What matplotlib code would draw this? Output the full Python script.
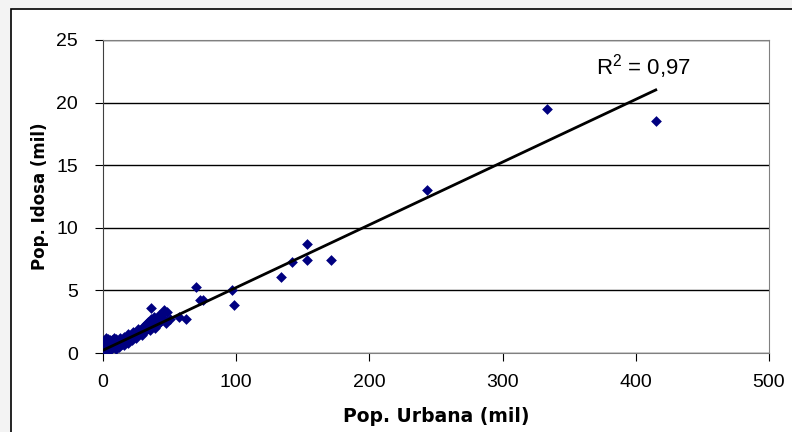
import numpy as np
import matplotlib
matplotlib.use("Agg")
import matplotlib.pyplot as plt
from matplotlib.patches import Rectangle

# large municipalities
big_x = [415, 333, 243, 153, 153, 142, 171, 134, 97, 98, 70, 73, 75, 62, 57, 36, 46, 44, 48]
big_y = [18.5, 19.5, 13.0, 8.7, 7.4, 7.3, 7.4, 6.1, 5.0, 3.8, 5.3, 4.2, 4.2, 2.7, 2.9, 3.6, 3.4, 3.2, 3.3]

# dense cluster near the origin
small_x = [0.3, 0.6, 1.0, 1.2, 1.5, 2.0, 2.0, 2.5, 3.0, 3.0, 3.5, 4.0, 4.0, 4.5, 5.0, 5.0,
           5.5, 6.0, 6.5, 7.0, 7.0, 8.0, 8.0, 9.0, 9.5, 10.0, 10.0, 11.0, 12.0, 12.5, 13.0,
           14.0, 15.0, 15.5, 16.0, 17.0, 18.0, 18.5, 19.0, 20.0, 21.0, 22.0, 22.5, 23.0,
           24.0, 25.0, 26.0, 27.0, 28.0, 29.0, 30.0, 31.0, 32.0, 33.0, 34.0, 35.0, 36.0,
           37.0, 38.0, 39.0, 40.0, 41.0, 42.0, 43.0, 45.0, 47.0, 50.0]
small_y = [0.05, 0.1, 0.2, 0.8, 0.15, 1.2, 0.4, 0.2, 0.7, 0.3, 1.1, 0.5, 0.15, 0.8, 0.4, 1.0,
           0.25, 0.6, 1.0, 0.4, 0.8, 1.2, 0.5, 0.7, 0.35, 1.1, 0.6, 0.8, 0.5, 0.9, 1.2,
           0.7, 1.0, 0.6, 1.3, 0.9, 1.2, 0.8, 1.5, 1.1, 1.4, 1.0, 1.7, 1.3, 1.6, 1.2,
           1.9, 1.5, 1.8, 1.4, 2.1, 1.7, 2.3, 1.9, 2.5, 1.8, 2.7, 2.2, 2.9, 2.0, 2.6,
           2.3, 3.0, 2.5, 2.8, 2.4, 2.7]

# linear trendline as shown on the chart
trend_slope = 0.0501
trend_intercept = 0.22
r2_label = "R$^2$ = 0,97"

x = np.array(big_x + small_x)
y = np.array(big_y + small_y)

plt.rcParams['font.family'] = ['Liberation Sans', 'DejaVu Sans']
plt.rcParams['mathtext.fontset'] = 'custom'
plt.rcParams['mathtext.rm'] = 'Liberation Sans'

fig = plt.figure(figsize=(7.92, 4.32), dpi=100)
fig.patch.set_facecolor('#f3f3f3')
# chart area frame
fig.patches.append(Rectangle((11 / 792, -0.1), 1.2, 1.1 - 9 / 432,
                             transform=fig.transFigure, facecolor='white',
                             edgecolor='black', linewidth=1.2, zorder=-5))

ax = fig.add_axes([103 / 792, 79 / 432, 666 / 792, 313 / 432])
ax.set_facecolor('white')

ax.scatter(x, y, marker='D', s=30, color='#000080', zorder=3, linewidths=0)

xs = np.array([x.min(), x.max()])
ax.plot(xs, trend_slope * xs + trend_intercept, color='black', linewidth=2, zorder=4)

ax.text(406, 22.85, r2_label, fontsize=16, ha='center', va='center')

ax.set_xlim(0, 500)
ax.set_ylim(0, 25)
ax.set_xticks(range(0, 501, 100))
ax.set_yticks(range(0, 26, 5))
ax.yaxis.grid(True, color='black', linewidth=1)
ax.set_axisbelow(True)
for s in ['top', 'right', 'bottom']:
    ax.spines[s].set_color('#808080')
ax.spines['left'].set_color('#404040')
ax.tick_params(direction='out', length=6, labelsize=14, color='black')
ax.tick_params(axis='y', pad=12)
ax.tick_params(axis='x', pad=9)

ax.set_xlabel('Pop. Urbana (mil)', fontsize=13.5, fontweight='bold', labelpad=12,
              family='DejaVu Sans')
ax.set_ylabel('Pop. Idosa (mil)', fontsize=12, fontweight='bold', labelpad=5,
              family='DejaVu Sans')

fig.savefig('out.png', dpi=100, facecolor=fig.get_facecolor())
